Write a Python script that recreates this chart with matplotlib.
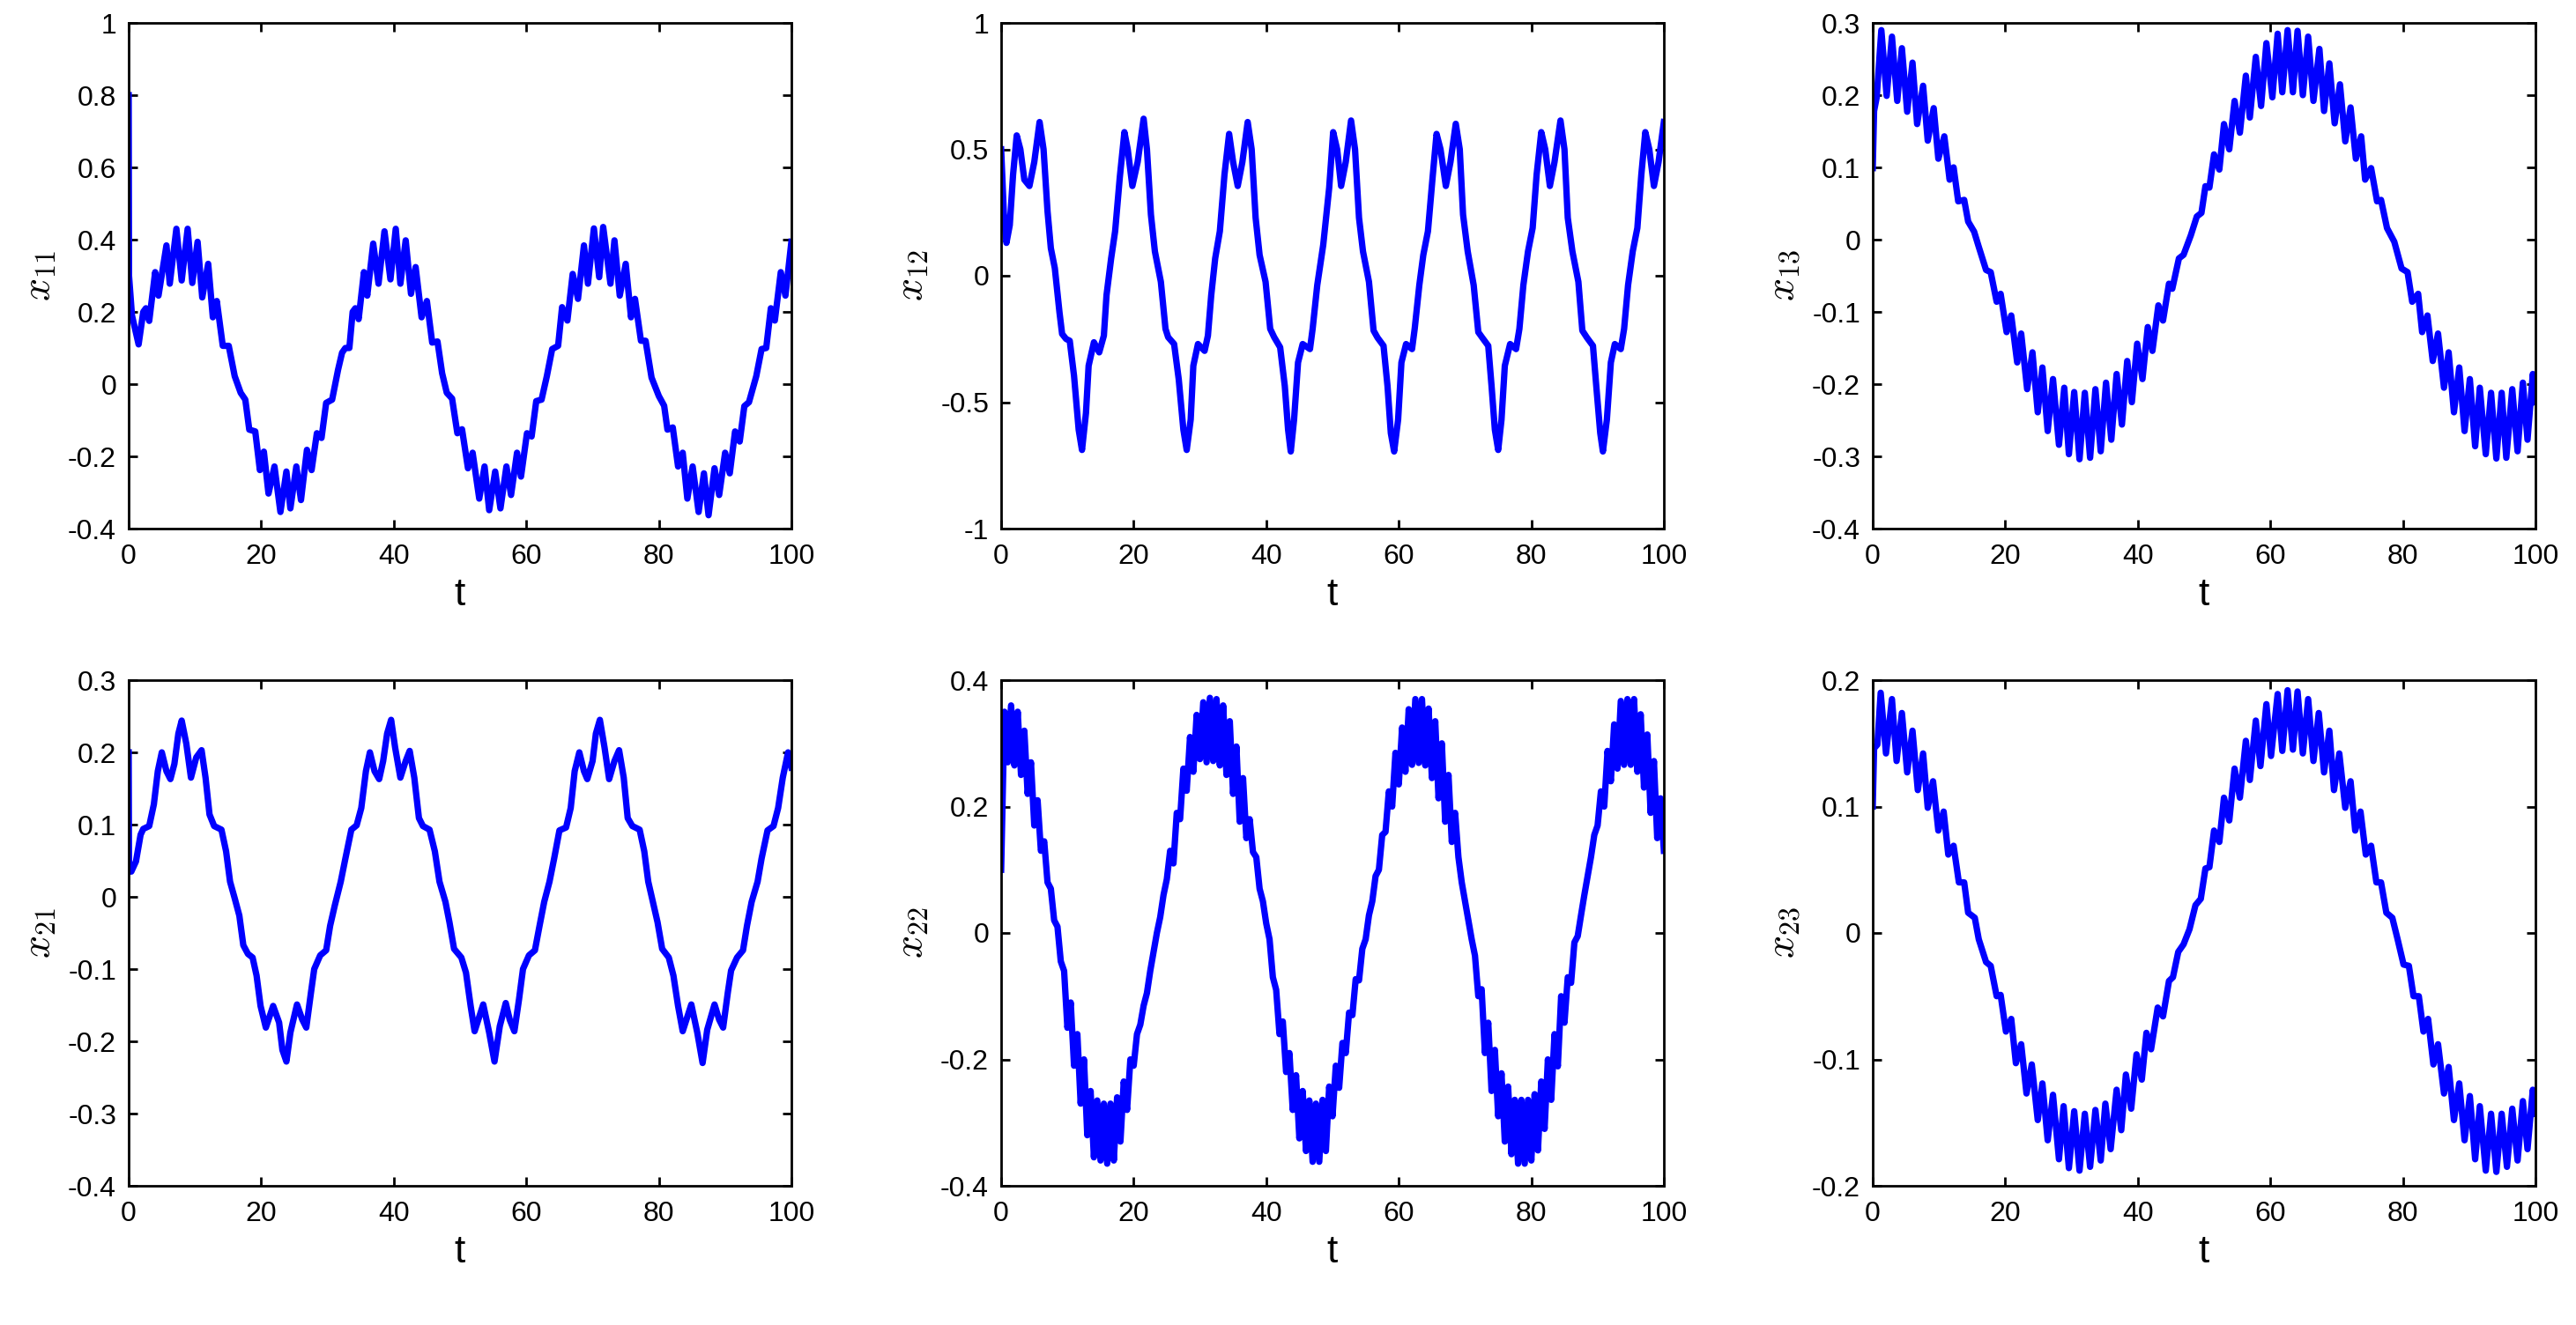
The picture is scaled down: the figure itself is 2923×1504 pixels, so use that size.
import numpy as np
import matplotlib
matplotlib.use("Agg")
import matplotlib.pyplot as plt

plt.rcParams["font.family"] = ["Liberation Sans", "DejaVu Sans"]
plt.rcParams["mathtext.fontset"] = "cm"
plt.rcParams["axes.unicode_minus"] = False

# x11: turning points
T11 = [0, 0.05, 0.5, 1.5, 2.2, 2.6, 3.1, 4.0, 4.5, 5.7, 6.2, 7.2, 8.0, 8.9, 9.6, 10.4, 11.1, 12.0,
       12.7, 13.3, 14.2, 15.1, 16.0, 16.9, 17.6, 18.2, 19.1, 19.8, 20.4, 21.1, 22.0, 22.9, 23.8,
       24.4, 25.3, 26.0, 26.9, 27.6, 28.4, 29.1, 29.8, 30.7, 31.6, 32.2, 32.7, 33.3, 33.8, 34.2,
       34.7, 35.5, 36.0, 36.9, 37.7, 38.6, 39.5, 40.3, 41.0, 41.8, 42.6, 43.3, 44.2, 45.0, 45.8,
       46.6, 47.3, 48.0, 48.8, 49.6, 50.3, 51.2, 51.9, 52.9, 53.7, 54.4, 55.3, 56.1, 57.0, 57.7,
       58.6, 59.2, 60.1, 60.8, 61.5, 62.3, 63.1, 63.9, 64.8, 65.4, 66.2, 67.0, 67.8, 68.7, 69.3,
       70.2, 71.0, 71.6, 72.7, 73.3, 74.1, 75.0, 75.8, 76.4, 77.3, 78.0, 78.9, 80.0, 80.8, 81.3,
       82.1, 82.9, 83.6, 84.3, 85.1, 86.0, 86.8, 87.5, 88.4, 89.1, 90.0, 90.7, 91.5, 92.2, 92.9,
       93.6, 94.7, 95.5, 96.2, 96.9, 97.5, 98.4, 99.1, 100.0]
X11 = [0.80, 0.30, 0.19, 0.11, 0.20, 0.21, 0.175, 0.31, 0.245, 0.384, 0.278, 0.43, 0.287, 0.43,
       0.28, 0.394, 0.24, 0.333, 0.185, 0.23, 0.106, 0.106, 0.022, -0.024, -0.043, -0.126, -0.131,
       -0.238, -0.187, -0.303, -0.228, -0.354, -0.242, -0.344, -0.228, -0.321, -0.182, -0.238,
       -0.136, -0.149, -0.052, -0.043, 0.04, 0.087, 0.10, 0.10, 0.20, 0.21, 0.18, 0.31, 0.245,
       0.389, 0.278, 0.423, 0.29, 0.43, 0.278, 0.398, 0.25, 0.324, 0.185, 0.23, 0.115, 0.118,
       0.03, -0.024, -0.04, -0.136, -0.125, -0.233, -0.19, -0.317, -0.228, -0.349, -0.242, -0.344,
       -0.228, -0.307, -0.19, -0.256, -0.136, -0.145, -0.047, -0.043, 0.022, 0.097, 0.106, 0.213,
       0.176, 0.305, 0.236, 0.384, 0.278, 0.431, 0.296, 0.435, 0.278, 0.398, 0.245, 0.333, 0.185,
       0.236, 0.12, 0.12, 0.018, -0.033, -0.06, -0.126, -0.12, -0.228, -0.19, -0.317, -0.228,
       -0.354, -0.247, -0.363, -0.233, -0.307, -0.19, -0.247, -0.131, -0.159, -0.061, -0.05,
       0.022, 0.097, 0.10, 0.21, 0.176, 0.31, 0.245, 0.394]

# x12
T12 = [0, 0.4, 0.8, 1.3, 1.8, 2.35, 2.9, 3.5, 4.27, 5.0, 5.8, 6.4, 7.0, 7.5, 8.1, 8.8, 9.2, 9.8,
       10.35, 11.0, 11.7, 12.2, 12.8, 13.2, 14.0, 14.8, 15.5, 15.9, 16.6, 17.2, 17.9, 18.6, 19.1,
       19.8, 20.6, 21.5, 22.0, 22.6, 23.2, 24.1, 24.8, 25.2, 26.1, 26.8, 27.5, 28.0, 28.6, 29.0,
       29.7, 30.7, 31.2, 31.7, 32.3, 33.0, 33.7, 34.4, 35.0, 35.7, 36.4, 37.2, 37.8, 38.4, 39.0,
       39.9, 40.6, 41.2, 42.1, 42.8, 43.3, 43.7, 44.2, 44.8, 45.5, 46.6, 47.0, 47.7, 48.6, 49.5,
       50.1, 50.7, 51.3, 52.0, 52.8, 53.4, 54.0, 54.6, 55.5, 56.2, 56.8, 57.7, 58.3, 58.8, 59.3,
       59.9, 60.4, 61.1, 62.0, 62.4, 63.1, 63.7, 64.4, 65.1, 65.7, 66.3, 67.1, 67.8, 68.6, 69.2,
       69.7, 70.4, 71.3, 72.0, 72.6, 73.5, 74.0, 74.5, 75.0, 75.5, 76.0, 76.8, 77.7, 78.2, 78.8,
       79.5, 80.2, 80.8, 81.5, 82.1, 82.8, 83.5, 84.4, 85.0, 85.5, 86.2, 87.1, 87.7, 88.4, 89.3,
       89.8, 90.4, 90.8, 91.4, 92.0, 92.6, 93.5, 94.0, 94.6, 95.3, 96.0, 96.6, 97.2, 97.8, 98.5,
       99.2, 100.0]
X12 = [0.50, 0.25, 0.13, 0.20, 0.40, 0.555, 0.50, 0.38, 0.355, 0.45, 0.608, 0.50, 0.255, 0.109,
       0.03, -0.144, -0.23, -0.25, -0.257, -0.396, -0.609, -0.689, -0.543, -0.356, -0.263, -0.303,
       -0.237, -0.077, 0.069, 0.176, 0.388, 0.568, 0.50, 0.355, 0.45, 0.621, 0.50, 0.242, 0.096,
       -0.024, -0.21, -0.243, -0.27, -0.41, -0.609, -0.689, -0.569, -0.356, -0.27, -0.297, -0.237,
       -0.077, 0.069, 0.176, 0.40, 0.561, 0.45, 0.355, 0.45, 0.608, 0.50, 0.229, 0.082, -0.024,
       -0.21, -0.243, -0.283, -0.436, -0.609, -0.695, -0.569, -0.343, -0.27, -0.29, -0.21, -0.037,
       0.122, 0.348, 0.568, 0.50, 0.355, 0.45, 0.614, 0.50, 0.229, 0.096, -0.024, -0.217, -0.245,
       -0.277, -0.436, -0.622, -0.695, -0.569, -0.343, -0.27, -0.29, -0.21, -0.037, 0.082, 0.176,
       0.388, 0.561, 0.50, 0.355, 0.45, 0.601, 0.50, 0.242, 0.096, -0.037, -0.223, -0.245, -0.277,
       -0.436, -0.609, -0.689, -0.569, -0.356, -0.27, -0.29, -0.21, -0.037, 0.096, 0.189, 0.40,
       0.568, 0.50, 0.355, 0.45, 0.614, 0.50, 0.229, 0.096, -0.024, -0.217, -0.245, -0.277,
       -0.436, -0.622, -0.695, -0.569, -0.343, -0.27, -0.29, -0.21, -0.037, 0.096, 0.189, 0.40,
       0.568, 0.50, 0.355, 0.45, 0.608]

# x13
T13 = [0, 0.2, 0.6, 1.3, 2.1, 2.9, 3.7, 4.4, 5.2, 6.0, 6.7, 7.6, 8.3, 9.2, 9.9, 10.8, 11.6, 12.2,
       12.9, 13.8, 14.4, 15.3, 16.0, 17.1, 17.8, 18.7, 19.3, 20.2, 20.9, 21.8, 22.4, 23.3, 24.1,
       24.9, 25.6, 26.4, 27.2, 28.1, 28.9, 29.6, 30.4, 31.2, 32.0, 32.8, 33.6, 34.4, 35.2, 36.0,
       36.8, 37.6, 38.4, 39.1, 39.9, 40.7, 41.5, 42.2, 43.1, 43.8, 44.7, 45.2, 46.2, 46.9, 48.0,
       48.9, 49.6, 50.2, 50.8, 51.5, 52.3, 53.0, 53.8, 54.6, 55.4, 56.3, 56.9, 57.8, 58.6, 59.4,
       60.3, 61.1, 61.8, 62.6, 63.4, 64.1, 64.9, 65.7, 66.5, 67.4, 68.1, 68.9, 69.7, 70.5, 71.3,
       72.1, 72.9, 73.7, 74.3, 75.2, 76.1, 76.7, 77.6, 78.7, 79.8, 80.7, 81.4, 82.3, 82.9, 83.7,
       84.5, 85.3, 86.2, 86.9, 87.7, 88.5, 89.3, 90.1, 90.9, 91.6, 92.5, 93.3, 94.1, 94.9, 95.6,
       96.5, 97.3, 98.1, 98.8, 99.6, 100.0]
X13 = [0.099, 0.178, 0.197, 0.29, 0.199, 0.281, 0.192, 0.265, 0.177, 0.245, 0.16, 0.213, 0.137,
       0.182, 0.112, 0.143, 0.083, 0.10, 0.053, 0.055, 0.025, 0.011, -0.01, -0.042, -0.045, -0.086,
       -0.075, -0.128, -0.105, -0.17, -0.13, -0.207, -0.156, -0.239, -0.177, -0.265, -0.193,
       -0.284, -0.205, -0.297, -0.211, -0.304, -0.212, -0.302, -0.207, -0.293, -0.198, -0.277,
       -0.186, -0.256, -0.168, -0.225, -0.144, -0.193, -0.121, -0.154, -0.091, -0.112, -0.061,
       -0.068, -0.026, -0.021, 0.006, 0.032, 0.037, 0.074, 0.072, 0.118, 0.097, 0.16, 0.125, 0.192,
       0.148, 0.227, 0.169, 0.253, 0.185, 0.272, 0.197, 0.285, 0.204, 0.29, 0.204, 0.289, 0.20,
       0.281, 0.192, 0.264, 0.178, 0.244, 0.161, 0.215, 0.136, 0.183, 0.112, 0.143, 0.083, 0.099,
       0.053, 0.055, 0.016, -0.003, -0.04, -0.045, -0.086, -0.075, -0.128, -0.105, -0.168, -0.13,
       -0.205, -0.156, -0.239, -0.177, -0.265, -0.193, -0.286, -0.205, -0.297, -0.212, -0.303,
       -0.212, -0.302, -0.207, -0.293, -0.198, -0.277, -0.186, -0.225]

# x21
T21 = [0, 0.05, 0.4, 1.1, 1.8, 2.2, 3.1, 3.8, 4.4, 5.0, 5.7, 6.3, 6.9, 7.5, 8.0, 8.7, 9.4, 10.2,
       11.0, 11.6, 12.2, 12.9, 14.0, 14.7, 15.3, 16.0, 16.7, 17.3, 18.0, 18.7, 19.3, 19.9, 20.7,
       21.8, 22.7, 23.2, 23.8, 24.4, 25.4, 26.2, 26.8, 27.5, 28.0, 28.9, 29.8, 30.4, 31.1, 32.0,
       32.7, 33.6, 34.4, 35.1, 35.8, 36.4, 37.1, 37.8, 38.4, 39.0, 39.6, 40.2, 41.0, 41.8, 42.4,
       43.1, 43.8, 44.4, 45.4, 46.2, 46.9, 47.8, 48.4, 49.1, 50.2, 50.9, 51.6, 52.2, 53.5, 54.4,
       55.2, 56.0, 56.9, 57.5, 58.2, 58.9, 59.5, 60.4, 61.3, 62.0, 62.7, 63.5, 64.2, 65.0, 66.0,
       66.7, 67.3, 68.0, 68.7, 69.2, 70.0, 70.5, 71.1, 71.8, 72.5, 73.3, 74.0, 74.7, 75.3, 76.0,
       77.1, 77.8, 78.4, 79.1, 79.8, 80.5, 81.5, 82.2, 82.9, 83.6, 84.9, 85.8, 86.6, 87.3, 88.4,
       89.1, 89.7, 90.4, 90.9, 91.8, 92.7, 93.3, 94.0, 94.9, 95.5, 96.4, 97.3, 98.0, 98.7, 99.5,
       100.0]
X21 = [0.20, 0.035, 0.035, 0.049, 0.086, 0.094, 0.098, 0.128, 0.174, 0.20, 0.174, 0.163, 0.184,
       0.226, 0.244, 0.212, 0.165, 0.193, 0.203, 0.165, 0.114, 0.098, 0.093, 0.063, 0.021, -0.002,
       -0.026, -0.067, -0.079, -0.084, -0.109, -0.151, -0.181, -0.151, -0.174, -0.212, -0.228,
       -0.188, -0.149, -0.17, -0.181, -0.133, -0.10, -0.081, -0.074, -0.04, -0.012, 0.021, 0.053,
       0.093, 0.099, 0.123, 0.174, 0.20, 0.174, 0.163, 0.188, 0.226, 0.245, 0.207, 0.165, 0.188,
       0.202, 0.165, 0.109, 0.098, 0.093, 0.063, 0.021, -0.007, -0.035, -0.072, -0.084, -0.105,
       -0.151, -0.186, -0.149, -0.188, -0.228, -0.179, -0.147, -0.17, -0.186, -0.142, -0.10,
       -0.081, -0.074, -0.04, -0.007, 0.021, 0.053, 0.092, 0.096, 0.123, 0.174, 0.20, 0.174, 0.163,
       0.188, 0.226, 0.245, 0.207, 0.163, 0.188, 0.203, 0.165, 0.109, 0.098, 0.093, 0.063, 0.021,
       -0.007, -0.035, -0.072, -0.084, -0.109, -0.151, -0.186, -0.149, -0.188, -0.23, -0.184,
       -0.149, -0.17, -0.181, -0.133, -0.102, -0.084, -0.074, -0.04, -0.007, 0.021, 0.053, 0.092,
       0.098, 0.123, 0.165, 0.20, 0.179]

# x22: sampled every 0.5 in t (alternating upper / lower edge of the fast ripple)
T22 = np.arange(0, 100.25, 0.5)
X22 = [0.10, 0.35, 0.27, 0.36, 0.265, 0.35, 0.25, 0.32, 0.22, 0.27, 0.17, 0.21, 0.13, 0.145,
       0.08, 0.07, 0.02, 0.01, -0.045, -0.06, -0.15, -0.11, -0.21, -0.16, -0.27, -0.20, -0.32,
       -0.25, -0.355, -0.265, -0.36, -0.27, -0.365, -0.27, -0.36, -0.26, -0.33, -0.235, -0.28,
       -0.20, -0.21, -0.16, -0.145, -0.115, -0.095, -0.06, -0.03, 0.0, 0.025, 0.06, 0.085, 0.13,
       0.11, 0.19, 0.18, 0.26, 0.225, 0.31, 0.255, 0.345, 0.275, 0.365, 0.27, 0.372, 0.272, 0.37,
       0.265, 0.36, 0.25, 0.335, 0.22, 0.295, 0.176, 0.245, 0.15, 0.18, 0.128, 0.12, 0.07, 0.05,
       0.015, -0.01, -0.07, -0.09, -0.16, -0.14, -0.22, -0.19, -0.28, -0.225, -0.325, -0.25,
       -0.345, -0.265, -0.362, -0.27, -0.362, -0.264, -0.345, -0.243, -0.29, -0.21, -0.245,
       -0.174, -0.19, -0.126, -0.13, -0.073, -0.075, -0.025, -0.01, 0.028, 0.05, 0.09, 0.10,
       0.155, 0.16, 0.224, 0.20, 0.285, 0.235, 0.325, 0.255, 0.354, 0.266, 0.37, 0.269, 0.37,
       0.265, 0.355, 0.245, 0.335, 0.213, 0.30, 0.176, 0.25, 0.144, 0.19, 0.12, 0.08, 0.05, 0.02,
       -0.01, -0.036, -0.10, -0.089, -0.19, -0.142, -0.25, -0.185, -0.29, -0.222, -0.33, -0.243,
       -0.35, -0.264, -0.365, -0.264, -0.365, -0.264, -0.36, -0.255, -0.344, -0.235, -0.31, -0.20,
       -0.264, -0.16, -0.211, -0.10, -0.142, -0.07, -0.079, -0.015, -0.005, 0.028, 0.06, 0.09,
       0.12, 0.155, 0.17, 0.224, 0.20, 0.288, 0.24, 0.33, 0.26, 0.367, 0.266, 0.37, 0.266, 0.37,
       0.255, 0.346, 0.23, 0.314, 0.19, 0.272, 0.15, 0.213, 0.13]

# x23
T23 = [0, 0.2, 0.7, 1.2, 2.0, 2.9, 3.6, 4.4, 5.2, 6.0, 6.8, 7.6, 8.3, 9.1, 9.9, 10.7, 11.4, 12.2,
       13.0, 13.8, 14.4, 15.4, 16.0, 17.1, 17.8, 18.7, 19.3, 20.1, 20.9, 21.6, 22.4, 23.2, 24.0,
       24.9, 25.6, 26.4, 27.2, 28.1, 28.8, 29.6, 30.4, 31.2, 32.0, 32.8, 33.6, 34.4, 35.1, 35.9,
       36.8, 37.5, 38.2, 39.0, 39.8, 40.6, 41.3, 42.0, 43.0, 43.8, 44.7, 45.3, 46.1, 46.9, 47.8,
       48.7, 49.5, 50.2, 50.8, 51.5, 52.3, 53.0, 53.8, 54.6, 55.4, 56.3, 56.9, 57.8, 58.5, 59.4,
       60.1, 61.1, 61.8, 62.6, 63.4, 64.1, 64.9, 65.7, 66.5, 67.3, 68.1, 68.9, 69.6, 70.4, 71.3,
       72.1, 72.8, 73.6, 74.4, 75.2, 76.0, 76.7, 77.5, 78.4, 79.2, 80.1, 80.9, 81.6, 82.4, 83.1,
       83.8, 84.6, 85.3, 86.2, 86.9, 87.7, 88.5, 89.3, 90.1, 90.9, 91.6, 92.5, 93.3, 94.1, 94.9,
       95.7, 96.5, 97.3, 98.1, 98.8, 99.6, 100.0]
X23 = [0.10, 0.146, 0.149, 0.19, 0.142, 0.185, 0.136, 0.174, 0.127, 0.16, 0.113, 0.142, 0.099,
       0.12, 0.081, 0.096, 0.062, 0.069, 0.04, 0.04, 0.016, 0.012, -0.005, -0.023, -0.026, -0.05,
       -0.049, -0.078, -0.068, -0.103, -0.088, -0.127, -0.104, -0.148, -0.119, -0.164, -0.128,
       -0.179, -0.137, -0.186, -0.141, -0.188, -0.143, -0.185, -0.14, -0.18, -0.135, -0.171,
       -0.124, -0.156, -0.112, -0.139, -0.096, -0.116, -0.079, -0.092, -0.059, -0.066, -0.038,
       -0.035, -0.015, -0.009, 0.003, 0.022, 0.027, 0.051, 0.052, 0.081, 0.072, 0.107, 0.089,
       0.13, 0.107, 0.152, 0.121, 0.168, 0.132, 0.181, 0.14, 0.189, 0.144, 0.192, 0.145, 0.191,
       0.142, 0.185, 0.136, 0.174, 0.127, 0.16, 0.113, 0.142, 0.099, 0.12, 0.081, 0.096, 0.062,
       0.069, 0.04, 0.04, 0.016, 0.012, -0.005, -0.025, -0.026, -0.05, -0.05, -0.078, -0.068,
       -0.104, -0.088, -0.127, -0.106, -0.148, -0.119, -0.164, -0.129, -0.179, -0.137, -0.188,
       -0.143, -0.189, -0.143, -0.185, -0.139, -0.18, -0.133, -0.171, -0.124, -0.143]

PANELS = [
    (T11, X11, r"$x_{11}$", (-0.4, 1.0), [-0.4, -0.2, 0, 0.2, 0.4, 0.6, 0.8, 1]),
    (T12, X12, r"$x_{12}$", (-1.0, 1.0), [-1, -0.5, 0, 0.5, 1]),
    (T13, X13, r"$x_{13}$", (-0.4, 0.3), [-0.4, -0.3, -0.2, -0.1, 0, 0.1, 0.2, 0.3]),
    (T21, X21, r"$x_{21}$", (-0.4, 0.3), [-0.4, -0.3, -0.2, -0.1, 0, 0.1, 0.2, 0.3]),
    (T22, X22, r"$x_{22}$", (-0.4, 0.4), [-0.4, -0.2, 0, 0.2, 0.4]),
    (T23, X23, r"$x_{23}$", (-0.2, 0.2), [-0.2, -0.1, 0, 0.1, 0.2]),
]

W, H = 2923, 1504
LEFTS = [146, 1136, 2125]
TOPS = [26, 772]
AX_W, AX_H = 752, 574

fig = plt.figure(figsize=(W / 100, H / 100), dpi=100)

for i, (t, x, ylab, ylim, yticks) in enumerate(PANELS):
    r, c = divmod(i, 3)
    ax = fig.add_axes([LEFTS[c] / W, 1 - (TOPS[r] + AX_H) / H, AX_W / W, AX_H / H])
    ax.plot(t, x, color="#0000ff", linewidth=5.2, solid_joinstyle="round")
    ax.set_xlim(0, 100)
    ax.set_ylim(*ylim)
    ax.set_xticks([0, 20, 40, 60, 80, 100])
    ax.set_yticks(yticks)
    ax.set_yticklabels([f"{v:g}" for v in yticks])
    ax.tick_params(direction="in", length=7, width=2, labelsize=23, top=True, right=True)
    ax.tick_params(axis="x", pad=12)
    ax.tick_params(axis="y", pad=10)
    for s in ax.spines.values():
        s.set_linewidth(2)
    ax.set_xlabel("t", fontsize=32, labelpad=6)
    ax.set_ylabel(ylab, fontsize=33, labelpad=8)

fig.savefig("out.png", dpi=100)
